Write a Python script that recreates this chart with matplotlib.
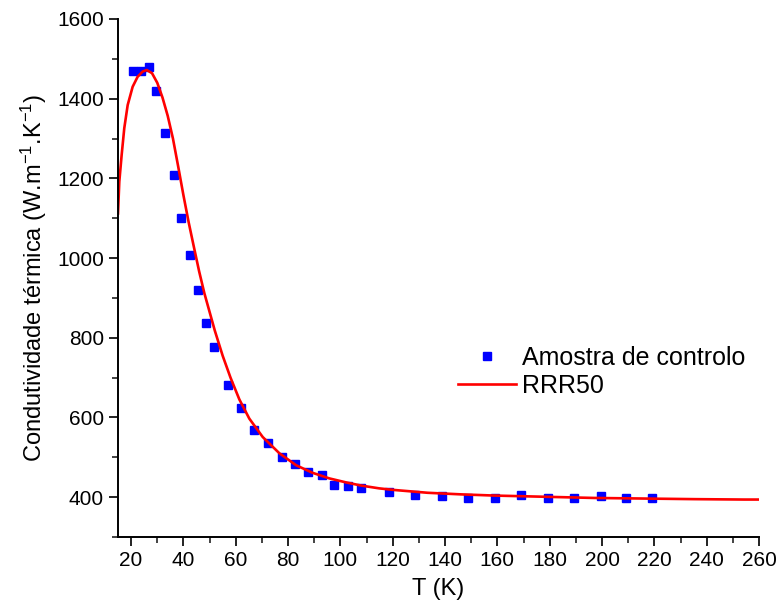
import matplotlib
matplotlib.use("Agg")
import matplotlib.pyplot as plt
from matplotlib.ticker import MultipleLocator

plt.rcParams['font.family'] = ['Liberation Sans', 'DejaVu Sans']
plt.rcParams['mathtext.fontset'] = 'custom'
plt.rcParams['mathtext.rm'] = 'Liberation Sans'
plt.rcParams['mathtext.it'] = 'Liberation Sans:italic'

# measured thermal conductivity of the control sample
T_data = [20.6, 23.8, 27.0, 29.6, 33.1, 36.3, 39.2, 42.4, 45.5, 48.5, 51.7,
          56.9, 61.9, 67.0, 72.2, 77.5, 82.6, 87.8, 92.8, 97.7, 103.0, 107.8,
          118.5, 128.5, 138.7, 148.9, 159.0, 169.1, 179.2, 189.4, 199.5,
          209.3, 219.1]
k_data = [1470, 1470, 1480, 1420, 1315, 1208, 1101, 1008, 921, 836, 777,
          681, 625, 568, 535, 501, 484, 464, 455, 430, 428, 422,
          412, 405, 403, 399, 399, 405, 398, 399, 403,
          399, 398]

# RRR50 model curve
T_fit = [15, 15.5, 16.4, 17.4, 18.7, 20.6, 22.5, 24.4, 26.0, 28.0, 30.0,
         32.0, 34.0, 36.0, 38.0, 40.0, 42.0, 44.0, 46.0, 48.0, 50.0, 52.0,
         55.0, 58.0, 61.4, 65.2, 70.3, 76.7, 83.1, 89.4, 95.8, 102.2, 108.0,
         114.9, 120.6, 133.3, 146.1, 158.8, 171.6, 184.3, 197.0, 209.8,
         222.5, 235.3, 254.4, 260]
k_fit = [1112, 1192, 1259, 1326, 1384, 1430, 1455, 1468, 1472, 1464, 1440,
         1403, 1357, 1300, 1230, 1158, 1090, 1028, 967, 912, 865, 818,
         755, 700, 645, 597, 551, 510, 480, 461, 447, 437, 429,
         422, 418, 411, 407, 404, 402, 400, 398, 397,
         396, 395, 394, 394]

fig = plt.figure(figsize=(7.79, 6.15), dpi=100)
ax = fig.add_axes([118 / 779, 1 - 537 / 615, (759 - 118) / 779, (537 - 19) / 615])

ax.plot(T_data, k_data, linestyle='none', marker='s', markersize=5.2,
        color='#0000ff', label='Amostra de controlo')
ax.plot(T_fit, k_fit, color='#ff0000', linewidth=1.9, label='RRR50')

ax.set_xlim(15, 260)
ax.set_ylim(300, 1600)
ax.xaxis.set_major_locator(MultipleLocator(20))
ax.xaxis.set_minor_locator(MultipleLocator(10))
ax.yaxis.set_major_locator(MultipleLocator(200))
ax.yaxis.set_minor_locator(MultipleLocator(100))

for side in ('top', 'right'):
    ax.spines[side].set_visible(False)
for side in ('left', 'bottom'):
    ax.spines[side].set_linewidth(1.4)
ax.tick_params(which='major', direction='out', length=6.5, width=1.4,
               labelsize=15, color='#222222')
ax.tick_params(which='minor', direction='out', length=4, width=1.2,
               color='#222222')

ax.set_xlabel('T (K)', fontsize=17, labelpad=6)
ax.set_ylabel('Condutividade térmica (W.m$^{-1}$.K$^{-1}$)', fontsize=17,
              labelpad=6)

fig.legend(loc='center left', bbox_to_anchor=(458 / 779, 1 - 372 / 615),
           frameon=False, fontsize=18, handlelength=2.3, handletextpad=0.25,
           labelspacing=0.15, borderpad=0, borderaxespad=0)

fig.savefig('out.png', dpi=100)
